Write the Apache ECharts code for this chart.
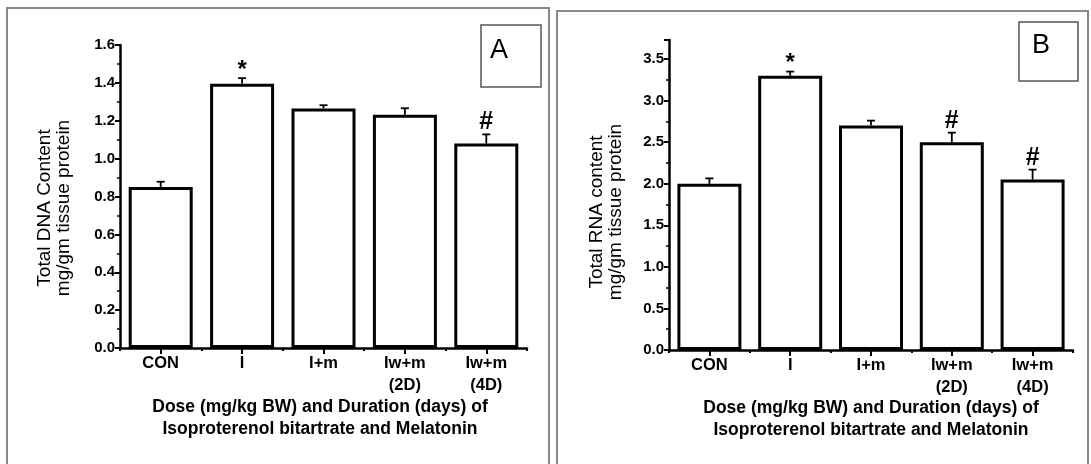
<!DOCTYPE html>
<html>
<head>
<meta charset="utf-8">
<script src="https://cdn.jsdelivr.net/npm/echarts@6/dist/echarts.min.js"></script>
<style>
html,body{margin:0;padding:0;background:#fff;}
#chart{width:1091px;height:464px;}
</style>
</head>
<body>
<div id="chart"></div>
<script>
const categories = ['CON', 'I', 'I+m', 'Iw+m\n(2D)', 'Iw+m\n(4D)'];
const dnaValues = [0.85, 1.395, 1.265, 1.232, 1.08];
const dnaErrors = [0.028, 0.03, 0.017, 0.034, 0.048];
const dnaMarks = ['', '*', '', '', '#'];
const rnaValues = [2.0, 3.30, 2.70, 2.50, 2.05];
const rnaErrors = [0.065, 0.05, 0.06, 0.115, 0.12];
const rnaMarks = ['', '*', '', '#', '#'];
const dnaTitle = 'Total DNA Content\nmg/gm tissue protein';
const rnaTitle = 'Total RNA content\nmg/gm tissue protein';
const xTitle = 'Dose (mg/kg BW) and Duration (days) of\nIsoproterenol bitartrate and Melatonin';
const panelLetters = ['A', 'B'];

const FONT = 'Liberation Sans, Arial, sans-serif';
const chart = echarts.init(document.getElementById('chart'), null, {renderer: 'canvas'});

function errRender(marks) {
  return function (params, api) {
    const i = api.value(0);
    const v = api.value(1);
    const e = api.value(2);
    const base = api.coord([i, v]);
    const top = api.coord([i, v + e]);
    const x = base[0];
    const children = [
      {type: 'line', shape: {x1: x, y1: base[1], x2: x, y2: top[1]}, style: {stroke: '#000', lineWidth: 1.8}},
      {type: 'line', shape: {x1: x - 4, y1: top[1], x2: x + 4, y2: top[1]}, style: {stroke: '#000', lineWidth: 1.8}}
    ];
    const m = marks[params.dataIndex];
    if (m) {
      children.push({
        type: 'text',
        style: {
          text: m, x: x, y: top[1] - (m === '*' ? 8 : 12),
          align: 'center', verticalAlign: 'middle',
          fill: '#000', fontSize: m === '*' ? 24 : 25, fontWeight: 'bold', fontFamily: FONT
        }
      });
    }
    return {type: 'group', children: children};
  };
}

function valueAxis(gi, max, interval) {
  return {
    type: 'value', gridIndex: gi, min: 0, max: max, interval: interval,
    axisLine: {show: true, lineStyle: {color: '#000', width: 2.5}},
    axisTick: {show: true, inside: false, length: 5, lineStyle: {color: '#000', width: 2}},
    minorTick: {show: true, splitNumber: 2, length: 3, lineStyle: {color: '#000', width: 1.5}},
    splitLine: {show: false},
    axisLabel: {
      showMaxLabel: max % interval < 1e-9 || Math.abs(max % interval - interval) < 1e-9,
      color: '#000', fontFamily: FONT, fontWeight: 'bold', fontSize: 15, margin: 5,
      formatter: v => v.toFixed(1)
    }
  };
}

function catAxis(gi) {
  return {
    type: 'category', gridIndex: gi, data: categories, boundaryGap: true,
    axisLine: {show: true, lineStyle: {color: '#000', width: 2.5}},
    axisTick: {show: true, alignWithLabel: true, length: 6, lineStyle: {color: '#000', width: 2}},
    axisLabel: {color: '#000', fontFamily: FONT, fontWeight: 'bold', fontSize: 16.5, lineHeight: 22, margin: 4, interval: 0}
  };
}
function catAxis2(gi) {
  return {
    type: 'category', gridIndex: gi, data: categories, boundaryGap: true, position: 'bottom',
    axisLine: {show: false},
    axisTick: {show: true, alignWithLabel: false, length: 3, lineStyle: {color: '#000', width: 2}},
    axisLabel: {show: false}
  };
}

function barSeries(xi, yi, vals) {
  return {
    type: 'bar', xAxisIndex: xi, yAxisIndex: yi, data: vals, barWidth: 64, z: 2,
    itemStyle: {color: '#fff', borderColor: '#000', borderWidth: 3}
  };
}
function errSeries(xi, yi, vals, errs, marks) {
  return {
    type: 'custom', xAxisIndex: xi, yAxisIndex: yi, z: 3,
    renderItem: errRender(marks),
    data: vals.map((v, i) => [i, v, errs[i]])
  };
}

const option = {
  backgroundColor: '#fff',
  animation: false,
  grid: [
    {left: 120, top: 45, width: 407, height: 303},
    {left: 669, top: 40, width: 404, height: 310}
  ],
  xAxis: [catAxis(0), catAxis(1), catAxis2(0), catAxis2(1)],
  yAxis: [valueAxis(0, 1.6, 0.2), valueAxis(1, 3.73, 0.5)],
  series: [
    barSeries(0, 0, dnaValues),
    errSeries(0, 0, dnaValues, dnaErrors, dnaMarks),
    barSeries(1, 1, rnaValues),
    errSeries(1, 1, rnaValues, rnaErrors, rnaMarks),
    {type: 'bar', xAxisIndex: 2, yAxisIndex: 0, data: []},
    {type: 'bar', xAxisIndex: 3, yAxisIndex: 1, data: []}
  ],
  graphic: [
    {type: 'rect', shape: {x: 7, y: 8, width: 542, height: 470}, style: {fill: null, stroke: '#888', lineWidth: 2}, silent: true},
    {type: 'rect', shape: {x: 557, y: 11, width: 531, height: 470}, style: {fill: null, stroke: '#888', lineWidth: 2}, silent: true},
    {type: 'rect', shape: {x: 481, y: 25, width: 60, height: 62}, style: {fill: null, stroke: '#555', lineWidth: 1.5}},
    {type: 'text', style: {text: panelLetters[0], x: 499, y: 51, align: 'center', verticalAlign: 'middle', fontSize: 27, fontFamily: FONT, fill: '#000'}},
    {type: 'rect', shape: {x: 1019, y: 22, width: 59, height: 59}, style: {fill: null, stroke: '#555', lineWidth: 1.5}},
    {type: 'text', style: {text: panelLetters[1], x: 1041, y: 46, align: 'center', verticalAlign: 'middle', fontSize: 27, fontFamily: FONT, fill: '#000'}},
    {type: 'text', x: 54, y: 208, rotation: Math.PI / 2, style: {text: dnaTitle, x: 0, y: 0, align: 'center', verticalAlign: 'middle', fontSize: 19, lineHeight: 19, fontFamily: FONT, fill: '#000'}},
    {type: 'text', x: 606, y: 212, rotation: Math.PI / 2, style: {text: rnaTitle, x: 0, y: 0, align: 'center', verticalAlign: 'middle', fontSize: 19, lineHeight: 19, fontFamily: FONT, fill: '#000'}},
    {type: 'text', x: 320, y: 418, style: {text: xTitle, x: 0, y: 0, align: 'center', verticalAlign: 'middle', fontSize: 17.5, lineHeight: 22, fontWeight: 'bold', fontFamily: FONT, fill: '#000'}},
    {type: 'text', x: 871, y: 419, style: {text: xTitle, x: 0, y: 0, align: 'center', verticalAlign: 'middle', fontSize: 17.5, lineHeight: 22, fontWeight: 'bold', fontFamily: FONT, fill: '#000'}}
  ]
};
chart.setOption(option);
</script>
</body>
</html>
